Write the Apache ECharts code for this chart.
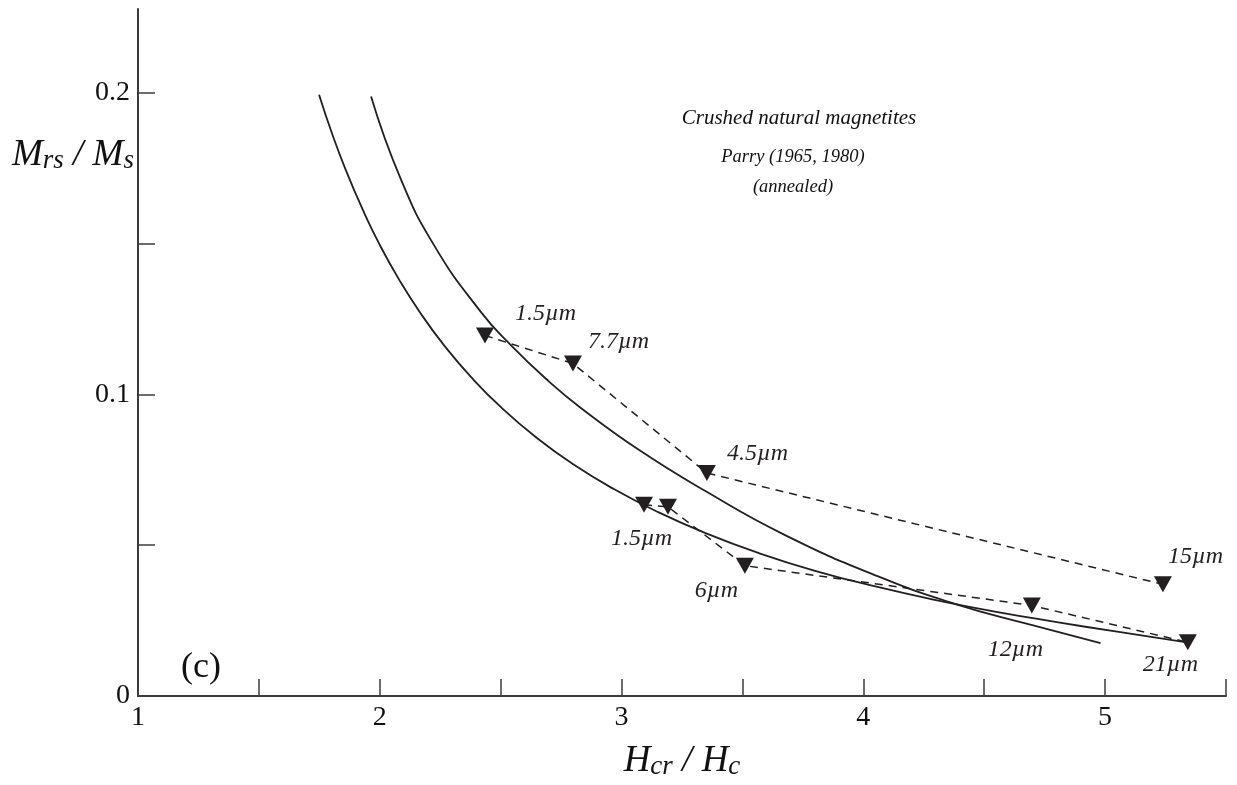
<!DOCTYPE html>
<html>
<head>
<meta charset="utf-8">
<script src="https://cdn.jsdelivr.net/npm/echarts@6/dist/echarts.min.js"></script>
<style>
html,body{margin:0;padding:0;background:#fff;}
#chart{width:1237px;height:785px;}
</style>
</head>
<body>
<div id="chart"></div>
<script>
// ---- data ----
const xTickValues = [1, 1.5, 2, 2.5, 3, 3.5, 4, 4.5, 5, 5.5];
const xLabelValues = [1, 2, 3, 4, 5];
const yTickValues = [0, 0.05, 0.1, 0.15, 0.2];
const yLabelValues = [0, 0.1, 0.2];

const upperSizes = ['1.5µm', '7.7µm', '4.5µm', '15µm'];
const upperX = [2.435, 2.799, 3.353, 5.239];
const upperY = [0.1195, 0.1102, 0.0739, 0.0370];

const lowerSizes = ['1.5µm', '', '6µm', '12µm', '21µm'];
const lowerX = [3.093, 3.192, 3.510, 4.697, 5.342];
const lowerY = [0.0634, 0.0627, 0.0432, 0.0300, 0.0178];

const curveLeftX = [1.749, 1.80, 1.86, 1.93, 2.00, 2.08, 2.17, 2.27, 2.38, 2.50, 2.65, 2.80, 2.97, 3.15, 3.35, 3.57, 3.80, 4.05, 4.30, 4.55, 4.80, 5.05, 5.338];
const curveLeftY = [0.1993, 0.1870, 0.1742, 0.1611, 0.1495, 0.1380, 0.1267, 0.1158, 0.1055, 0.0958, 0.0855, 0.0768, 0.0685, 0.0610, 0.0539, 0.0473, 0.0415, 0.0363, 0.0318, 0.0279, 0.0245, 0.0213, 0.0178];

const curveRightX = [1.964, 2.087, 2.226, 2.417, 2.543, 2.699, 2.833, 3.073, 3.345, 3.672, 4.072, 4.385, 4.683, 4.981];
const curveRightY = [0.1987, 0.1713, 0.1492, 0.1274, 0.1162, 0.1043, 0.0954, 0.0815, 0.0680, 0.0535, 0.0393, 0.0304, 0.0238, 0.0175];

// ---- styling ----
const INK = '#231f20';
const AXIS = '#3c3c3c';
const SERIF = '"Liberation Serif", "DejaVu Serif", serif';
const upperLabelOffsets = [[30, -22], [15, -22], [20, -19], [5, -28]];
const lowerLabelOffsets = [[-33, 34], [0, 0], [-50, 25], [-44, 44], [-45, 22]];
const triangle = 'path://M0,0 L20,0 L10,18 Z';

function pts(xs, ys) { return xs.map((x, i) => [x, ys[i]]); }
function markers(xs, ys, names, offsets) {
  return xs.map((x, i) => ({
    value: [x, ys[i]],
    label: {
      show: names[i] !== '',
      formatter: names[i],
      position: 'inside',
      align: 'left',
      verticalAlign: 'middle',
      offset: offsets[i],
      fontFamily: SERIF, fontStyle: 'italic', fontSize: 24, color: INK
    }
  }));
}

const chart = echarts.init(document.getElementById('chart'), null, {renderer: 'canvas'});
chart.setOption({
  animation: false,
  backgroundColor: '#ffffff',
  grid: {left: 138, right: 11, top: 9, bottom: 86, containLabel: false},
  xAxis: {
    type: 'value', min: 1, max: 5.5, interval: 0.5,
    axisLine: {show: true, onZero: false, lineStyle: {color: AXIS, width: 2}},
    axisTick: {show: true, inside: true, length: 17, customValues: xTickValues, lineStyle: {color: AXIS, width: 1.5}},
    axisLabel: {customValues: xLabelValues, margin: 8, fontFamily: SERIF, fontSize: 28, color: '#111'},
    splitLine: {show: false},
    name: '{H|H}{s|cr}{sl| / }{H|H}{s|c}',
    nameLocation: 'middle', nameGap: 44,
    nameTextStyle: {
      rich: {
        H: {fontFamily: SERIF, fontStyle: 'italic', fontSize: 37, color: '#111', lineHeight: 40, verticalAlign: 'bottom'},
        s: {fontFamily: SERIF, fontStyle: 'italic', fontSize: 27, color: '#111', lineHeight: 27, verticalAlign: 'bottom'},
        sl: {fontFamily: SERIF, fontStyle: 'italic', fontSize: 37, color: '#111', lineHeight: 40, verticalAlign: 'bottom'}
      }
    }
  },
  yAxis: {
    type: 'value', min: 0, max: 0.2277,
    axisLine: {show: true, onZero: false, lineStyle: {color: AXIS, width: 2}},
    axisTick: {show: true, inside: true, length: 17, customValues: yTickValues, lineStyle: {color: AXIS, width: 1.5}},
    axisLabel: {customValues: yLabelValues, margin: 8, fontFamily: SERIF, fontSize: 28, color: '#111'},
    splitLine: {show: false}
  },
  graphic: [
    {type: 'text', left: 12, top: 137, style: {
      text: '{M|M}{s|rs}{sl| / }{M|M}{s|s}',
      rich: {
        M: {fontFamily: SERIF, fontStyle: 'italic', fontSize: 37, fill: '#111', lineHeight: 40, verticalAlign: 'bottom'},
        s: {fontFamily: SERIF, fontStyle: 'italic', fontSize: 27, fill: '#111', lineHeight: 27, verticalAlign: 'bottom'},
        sl: {fontFamily: SERIF, fontStyle: 'italic', fontSize: 37, fill: '#111', lineHeight: 40, verticalAlign: 'bottom'}
      }
    }},
    {type: 'text', left: 181, top: 650, style: {text: '(c)', fontFamily: SERIF, fontSize: 36, fill: '#111'}},
    {type: 'text', x: 799, y: 118, style: {text: 'Crushed natural magnetites', fontFamily: SERIF, fontStyle: 'italic', fontSize: 21, fill: '#111', align: 'center', verticalAlign: 'middle'}},
    {type: 'text', x: 793, y: 157, style: {text: 'Parry (1965, 1980)', fontFamily: SERIF, fontStyle: 'italic', fontSize: 18.5, fill: '#111', align: 'center', verticalAlign: 'middle'}},
    {type: 'text', x: 793, y: 187, style: {text: '(annealed)', fontFamily: SERIF, fontStyle: 'italic', fontSize: 18.5, fill: '#111', align: 'center', verticalAlign: 'middle'}}
  ],
  series: [
    {type: 'line', data: pts(curveLeftX, curveLeftY), smooth: 0.5, showSymbol: false, symbol: 'none',
     lineStyle: {color: INK, width: 1.8}, z: 2},
    {type: 'line', data: pts(curveRightX, curveRightY), smooth: 0.5, showSymbol: false, symbol: 'none',
     lineStyle: {color: INK, width: 1.8}, z: 2},
    {type: 'line', data: markers(upperX, upperY, upperSizes, upperLabelOffsets),
     symbol: triangle, symbolSize: [18, 16], showAllSymbol: true,
     itemStyle: {color: INK}, lineStyle: {color: INK, width: 1.5, type: [8, 6]}, z: 3},
    {type: 'line', data: markers(lowerX, lowerY, lowerSizes, lowerLabelOffsets),
     symbol: triangle, symbolSize: [18, 16], showAllSymbol: true,
     itemStyle: {color: INK}, lineStyle: {color: INK, width: 1.5, type: [8, 6]}, z: 3}
  ]
});
</script>
</body>
</html>
